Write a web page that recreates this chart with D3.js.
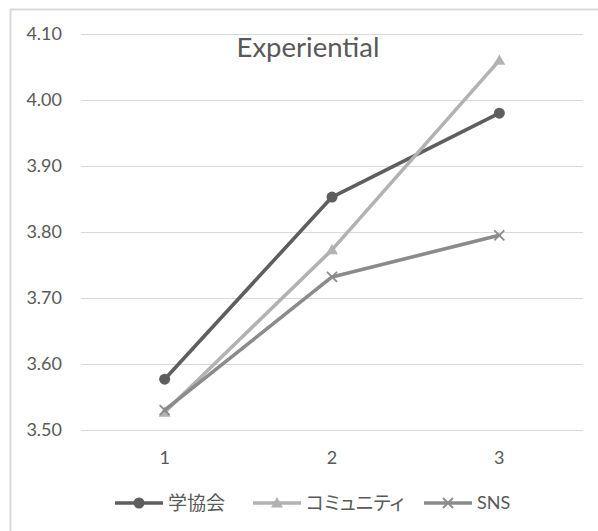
<!DOCTYPE html>
<html>
<head>
<meta charset="utf-8">
<script src="https://cdn.jsdelivr.net/npm/d3@7"></script>
<style>
  html, body { margin: 0; padding: 0; background: #fff; }
  svg { display: block; }
  .jp { font-family: "Noto Sans CJK JP", "Noto Sans", sans-serif; font-feature-settings: "palt"; }
</style>
</head>
<body>
<svg id="chart" width="598" height="531"></svg>
<script>
// Survey waves and mean scores per group
const categories = ["1", "2", "3"];
const seriesNames = ["学協会", "コミュニティ", "SNS"];
const gakkyokai = [3.577, 3.853, 3.980];
const community = [3.527, 3.773, 4.060];
const sns = [3.530, 3.732, 3.795];
const yTicks = [3.50, 3.60, 3.70, 3.80, 3.90, 4.00, 4.10];
const title = "Experiential";

const series = [
  { name: seriesNames[0], values: gakkyokai, color: "#5e5e5e", marker: "circle" },
  { name: seriesNames[1], values: community, color: "#b2b2b2", marker: "triangle" },
  { name: seriesNames[2], values: sns, color: "#8b8b8b", marker: "cross" }
];

const svg = d3.select("#chart");
const latin = "Lato, 'Open Sans', sans-serif";
const textColor = "#595959";

// chart frame
svg.append("rect")
  .attr("x", 10.5).attr("y", 9.5)
  .attr("width", 600).attr("height", 540)
  .attr("fill", "#fff").attr("stroke", "#d9d9d9").attr("stroke-width", 2);

const plot = { left: 81, right: 583, top: 34, bottom: 430 };

const x = d3.scaleBand().domain(categories).range([plot.left, plot.right]);
const y = d3.scaleLinear().domain([3.5, 4.1]).range([plot.bottom, plot.top]);

// horizontal gridlines
svg.append("g").selectAll("line").data(yTicks).join("line")
  .attr("x1", plot.left).attr("x2", plot.right)
  .attr("y1", d => Math.round(y(d)) + 0.5).attr("y2", d => Math.round(y(d)) + 0.5)
  .attr("stroke", "#d9d9d9").attr("stroke-width", 1);

// y axis labels
const yAxis = d3.axisLeft(y).tickValues(yTicks).tickFormat(d3.format(".2f")).tickSize(0).tickPadding(0);
const gy = svg.append("g").attr("transform", `translate(62,0)`).call(yAxis);
gy.select(".domain").remove();
gy.selectAll("text").attr("font-family", latin).attr("font-size", 18).attr("fill", textColor);

// x axis labels
const xAxis = d3.axisBottom(x).tickSize(0).tickPadding(0);
const gx = svg.append("g").attr("transform", `translate(0,${plot.bottom + 21})`).call(xAxis);
gx.select(".domain").remove();
gx.selectAll("text").attr("font-family", latin).attr("font-size", 18).attr("fill", textColor);

// title
svg.append("text")
  .attr("x", 308).attr("y", 57)
  .attr("text-anchor", "middle")
  .attr("font-family", latin).attr("font-size", 27.5)
  .attr("fill", textColor)
  .text(title);

const cx = i => x(categories[i]) + x.bandwidth() / 2;

function drawMarker(g, type, color, px, py) {
  if (type === "circle") {
    g.append("circle").attr("cx", px).attr("cy", py).attr("r", 5.5).attr("fill", color);
  } else if (type === "triangle") {
    const s = d3.symbol().type(d3.symbolTriangle).size(62);
    g.append("path").attr("d", s()).attr("transform", `translate(${px},${py + 1})`).attr("fill", color);
  } else {
    const r = 5;
    g.append("path")
      .attr("d", `M${px - r},${py - r}L${px + r},${py + r}M${px - r},${py + r}L${px + r},${py - r}`)
      .attr("stroke", color).attr("stroke-width", 1.8).attr("fill", "none");
  }
}

const line = d3.line().x((d, i) => cx(i)).y(d => y(d));

series.forEach(s => {
  const g = svg.append("g");
  g.append("path").datum(s.values)
    .attr("d", line)
    .attr("fill", "none").attr("stroke", s.color)
    .attr("stroke-width", 3.6).attr("stroke-linejoin", "round").attr("stroke-linecap", "round");
  s.values.forEach((v, i) => drawMarker(g, s.marker, s.color, cx(i), y(v)));
});

// legend
const legendY = 503;
const legendX = [115, 253, 424];
series.forEach((s, i) => {
  const g = svg.append("g");
  const lx = legendX[i];
  g.append("line").attr("x1", lx).attr("x2", lx + 48)
    .attr("y1", legendY).attr("y2", legendY)
    .attr("stroke", s.color).attr("stroke-width", 3.6);
  drawMarker(g, s.marker, s.color, lx + 24, legendY);
  g.append("text")
    .attr("class", i < 2 ? "jp" : null)
    .attr("x", lx + 53).attr("y", legendY)
    .attr("dy", "0.35em")
    .attr("font-family", i < 2 ? null : latin)
    .attr("font-size", i < 2 ? 19 : 18)
    .attr("fill", textColor)
    .text(s.name);
});
</script>
</body>
</html>
